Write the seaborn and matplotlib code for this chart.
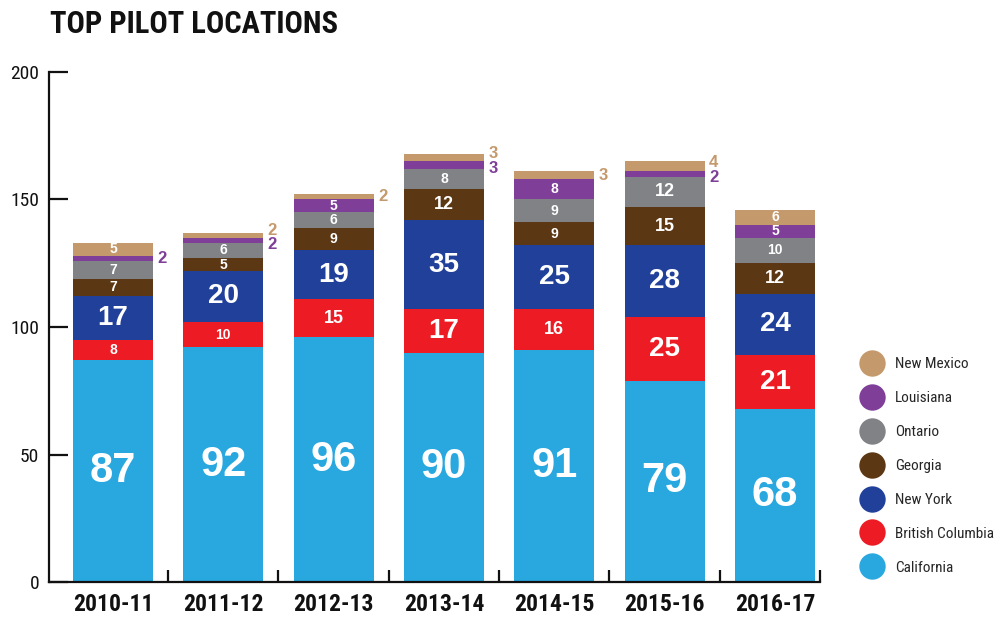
import matplotlib
matplotlib.use("Agg")
import matplotlib.pyplot as plt
from matplotlib import font_manager as fm
from matplotlib.lines import Line2D
import seaborn as sns
import numpy as np
import pandas as pd

seasons = ["2010-11", "2011-12", "2012-13", "2013-14", "2014-15", "2015-16", "2016-17"]
california = [87, 92, 96, 90, 91, 79, 68]
british_columbia = [8, 10, 15, 17, 16, 25, 21]
new_york = [17, 20, 19, 35, 25, 28, 24]
georgia = [7, 5, 9, 12, 9, 15, 12]
ontario = [7, 6, 6, 8, 9, 12, 10]
louisiana = [2, 2, 5, 3, 8, 2, 5]
new_mexico = [5, 2, 2, 3, 3, 4, 6]

series_names = ["California", "British Columbia", "New York", "Georgia",
                "Ontario", "Louisiana", "New Mexico"]
series_values = [california, british_columbia, new_york, georgia,
                 ontario, louisiana, new_mexico]
colors = ["#29A8E0", "#ED1C24", "#21409A", "#5C3713", "#808285", "#7F3F98", "#C49A6C"]

sns.set_style("white")
plt.rcParams["font.family"] = ["Liberation Sans", "DejaVu Sans"]

# find a condensed face
names = {f.name for f in fm.fontManager.ttflist}
COND_FAMILY, COND_STRETCH, FOUND = "Liberation Sans", "normal", False
for cand in ["Liberation Sans Narrow", "Roboto Condensed", "Open Sans Condensed",
             "Noto Sans Condensed", "Arial Narrow"]:
    if cand in names:
        COND_FAMILY, FOUND = cand, True
        break
if not FOUND:
    for fam in ["Noto Sans", "Open Sans", "Roboto", "DejaVu Sans"]:
        st = [f for f in fm.fontManager.ttflist if f.name == fam
              and str(f.stretch) in ("condensed", "semi-condensed", "extra-condensed", "600", "500", "700", "300")]
        if any(str(f.stretch) == "condensed" for f in st):
            COND_FAMILY, COND_STRETCH, FOUND = fam, "condensed", True
            break
        if st:
            COND_FAMILY, COND_STRETCH, FOUND = fam, st[0].stretch, True
            break
SCALE = 1.0 if FOUND else 0.85


def cprops(size, weight="normal"):
    return fm.FontProperties(family=COND_FAMILY, stretch=COND_STRETCH,
                             size=size * SCALE, weight=weight)


fig = plt.figure(figsize=(10, 6.17), dpi=100)
ax = fig.add_axes([0.049, 1 - 582 / 617, 0.82 - 0.049, (582 - 72) / 617])

rows = []
for name, vals in zip(series_names, series_values):
    for s, v in zip(seasons, vals):
        rows.append({"season": s, "series": name, "value": v})
df = pd.DataFrame(rows)
df["cum"] = df.groupby("season")["value"].cumsum()

bar_w = 0.725
for name, col in reversed(list(zip(series_names, colors))):
    sub = df[df["series"] == name]
    sns.barplot(data=sub, x="season", y="cum", order=seasons, color=col,
                width=bar_w, linewidth=0, saturation=1, ax=ax, errorbar=None)

xr = 6 + 45 / 110.33
ax.set_xlim(-0.58, xr)
ax.set_ylim(0, 200)


def fsize(v, name):
    if name == "California":
        return 30
    if v >= 17:
        return 20
    if v >= 12:
        return 13
    return 10


for i, s in enumerate(seasons):
    sub = df[df["season"] == s].set_index("series")
    outside = [n for n in ["Louisiana", "New Mexico"] if sub.loc[n, "value"] <= 4]
    for name, col in zip(series_names, colors):
        v = sub.loc[name, "value"]
        top = sub.loc[name, "cum"]
        mid = top - v / 2
        if name in outside:
            shift = 0
            if len(outside) == 2:
                shift = 1.7 if name == "New Mexico" else -1.5
            ax.text(i + bar_w / 2 + 0.04, mid + shift, str(v), color=col,
                    fontsize=12, fontweight="bold", ha="left", va="center")
        else:
            ax.text(i, mid, str(v), color="white", fontsize=fsize(v, name),
                    fontweight="bold", ha="center", va="center")

sns.despine(ax=ax, top=True, right=True)
for sp in ["left", "bottom"]:
    ax.spines[sp].set_linewidth(1.6)
    ax.spines[sp].set_color("#111111")
ax.set_yticks([0, 50, 100, 150, 200])
ax.tick_params(axis="y", direction="in", length=13.5, width=1.6, pad=7,
               colors="#111111", left=True)
for lab in ax.get_yticklabels():
    lab.set_fontproperties(cprops(14))
ax.set_xticks(range(len(seasons)))
ax.set_xticklabels(seasons)
ax.tick_params(axis="x", which="major", length=0, pad=8, colors="#111111")
for lab in ax.get_xticklabels():
    lab.set_fontproperties(cprops(17, "bold"))
ax.set_xticks([0.5, 1.5, 2.5, 3.5, 4.5, 5.5, xr], minor=True)
ax.tick_params(axis="x", which="minor", direction="in", length=9, width=1.6,
               bottom=True, color="#111111")
ax.set_xlabel("")
ax.set_ylabel("")

fig.text(0.05, 1 - 9 / 617, "TOP PILOT LOCATIONS", fontproperties=cprops(22, "bold"),
         ha="left", va="top", color="#111111")

handles = [Line2D([0], [0], marker="o", linestyle="none", markersize=19,
                  markerfacecolor=c, markeredgewidth=0) for c in colors]
leg = fig.legend(handles[::-1], series_names[::-1], loc="center left",
                 bbox_to_anchor=(0.863, 1 - 466 / 617), frameon=False,
                 borderpad=0, borderaxespad=0, handlelength=1.2,
                 handletextpad=0.9, labelspacing=1.3,
                 prop=cprops(11))

fig.savefig("out.png", dpi=100)
